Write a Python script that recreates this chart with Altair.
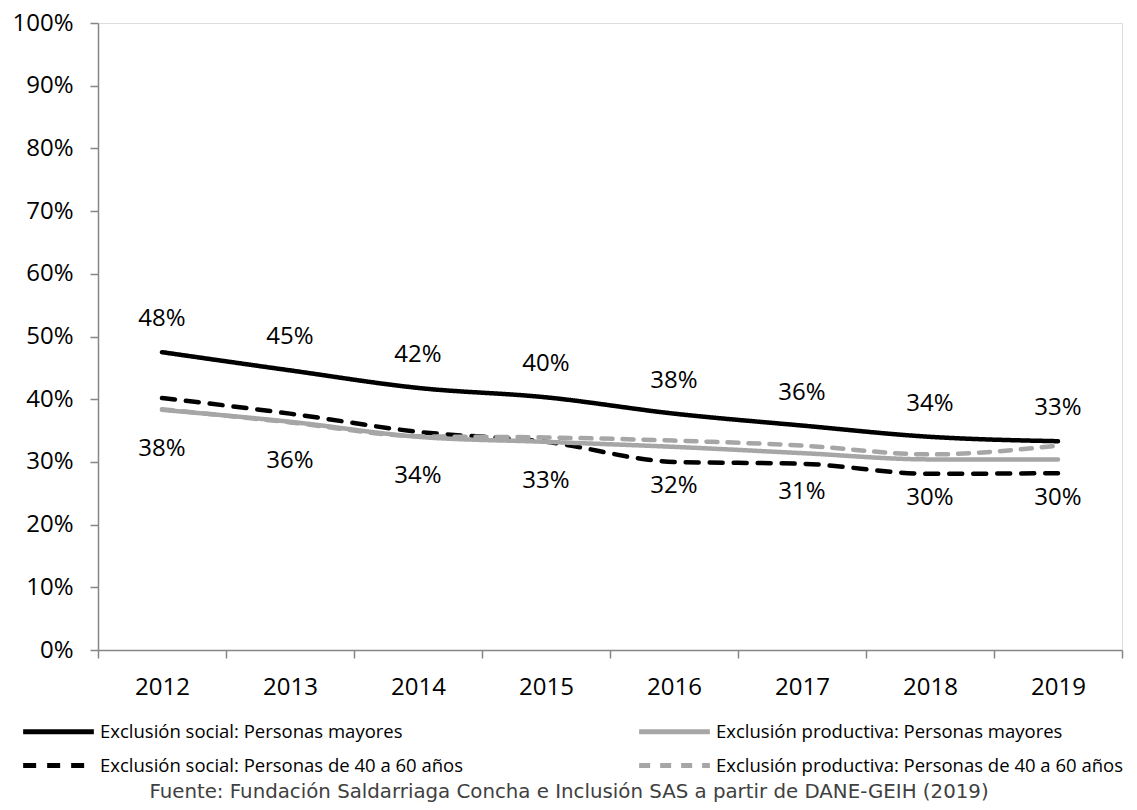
import altair as alt
import pandas as pd

years = [2012, 2013, 2014, 2015, 2016, 2017, 2018, 2019]
series_names = [
    "Exclusión social: Personas mayores",
    "Exclusión social: Personas de 40 a 60 años",
    "Exclusión productiva: Personas mayores",
    "Exclusión productiva: Personas de 40 a 60 años",
]
social_mayores = [47.5, 44.6, 41.8, 40.3, 37.7, 35.8, 34.0, 33.3]
social_40_60 = [40.2, 37.7, 34.8, 33.2, 30.0, 29.7, 28.1, 28.2]
productiva_mayores = [38.3, 36.4, 34.0, 33.2, 32.4, 31.4, 30.4, 30.4]
productiva_40_60 = [38.4, 36.3, 34.1, 33.9, 33.4, 32.6, 31.2, 32.6]
series_colors = ["#000000", "#000000", "#A6A6A6", "#A6A6A6"]
series_dashes = [[1, 0], [13, 11], [1, 0], [11, 10]]
y_ticks = [i / 10 for i in range(11)]
x_bounds = [2011.5 + i for i in range(9)]
source_text = "Fuente: Fundación Saldarriaga Concha e Inclusión SAS a partir de DANE-GEIH (2019)"

rows = []
for name, vals in zip(series_names, [social_mayores, social_40_60, productiva_mayores, productiva_40_60]):
    for yr, v in zip(years, vals):
        rows.append({"year": yr, "serie": name, "value": v / 100})
df = pd.DataFrame(rows)

FONT = "Open Sans"
AX = "#868686"
FS = 24

x_scale = alt.Scale(domain=[2011.5, 2019.5], nice=False, zero=False)
y_scale = alt.Scale(domain=[0, 1], nice=False)

legend_cfg = dict(title=None, orient="none", legendX=-60, legendY=688, columns=2,
                  columnPadding=165, rowPadding=3, symbolType="M-2,0H2",
                  symbolSize=1250, symbolStrokeWidth=5, labelFont=FONT,
                  labelFontSize=18.5, labelColor="#000000", labelOffset=21,
                  labelLimit=600, padding=0)

lines = alt.Chart(df).mark_line(strokeWidth=4.5, interpolate="monotone", strokeCap="round").encode(
    x=alt.X("year:Q", scale=x_scale,
            axis=alt.Axis(values=x_bounds, labels=False, title=None, grid=False, orient="bottom",
                          tickSize=8, tickColor=AX, domainColor=AX, domainWidth=1.5, tickWidth=1.5)),
    y=alt.Y("value:Q", scale=y_scale,
            axis=alt.Axis(values=y_ticks, format=".0%", title=None, grid=False, tickSize=8,
                          tickColor=AX, domainColor=AX, domainWidth=1.5, tickWidth=1.5,
                          labelFont=FONT, labelFontSize=FS, labelColor="#000000", labelPadding=17)),
    color=alt.Color("serie:N", scale=alt.Scale(domain=series_names, range=series_colors),
                    legend=alt.Legend(**legend_cfg)),
    strokeDash=alt.StrokeDash("serie:N", scale=alt.Scale(domain=series_names, range=series_dashes),
                              legend=alt.Legend(**legend_cfg)),
)

top_labels = alt.Chart(df).transform_filter(
    alt.datum.serie == series_names[0]
).mark_text(font=FONT, fontSize=FS, dy=-33, color="#000000").encode(
    x=alt.X("year:Q", scale=x_scale,
            axis=alt.Axis(values=years, format="d", title=None, grid=False, ticks=False, domain=False,
                          orient="bottom", labelFont=FONT, labelFontSize=FS, labelColor="#000000",
                          labelPadding=25)),
    y=alt.Y("value:Q", scale=y_scale),
    text=alt.Text("value:Q", format=".0%"),
)

bottom_labels = alt.Chart(df).transform_filter(
    alt.datum.serie == series_names[2]
).mark_text(font=FONT, fontSize=FS, dy=39, color="#000000").encode(
    x=alt.X("year:Q", scale=x_scale, axis=None),
    y=alt.Y("value:Q", scale=y_scale),
    text=alt.Text("value:Q", format=".0%"),
)

chart = alt.layer(lines, top_labels, bottom_labels).resolve_axis(x="independent").properties(
    width=1024,
    height=627,
    padding={"left": 98, "top": 23, "right": 15, "bottom": 160},
    autosize=alt.AutoSizeParams(type="none"),
    title=alt.TitleParams(text=source_text, orient="bottom", anchor="middle", font="DejaVu Sans",
                          fontSize=19.8, fontWeight="normal", color="#404040", offset=6, dx=-41),
).configure_view(stroke=None).configure(background="white")

chart.save("out.html", embed_options={"renderer": "svg", "actions": False})
